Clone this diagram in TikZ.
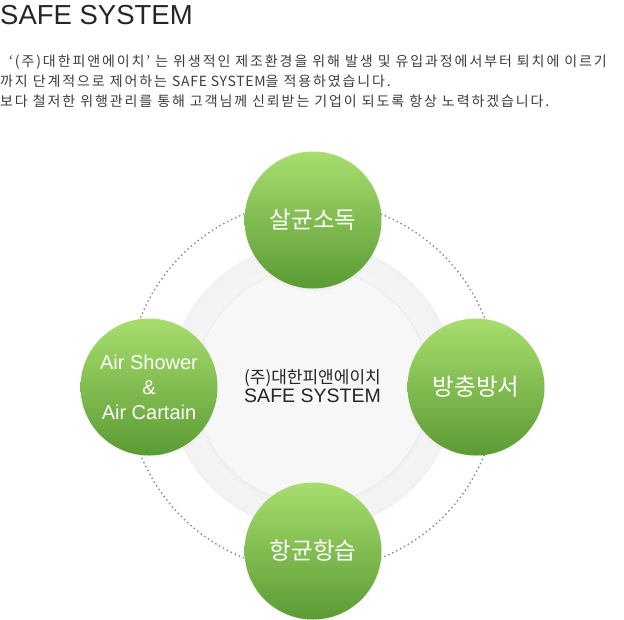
\documentclass[tikz,border=0pt]{standalone}
\usepackage{fontspec}
\setmainfont{Noto Sans CJK KR}
\newfontfamily\latinfont{Liberation Sans}
\newfontfamily\introfont{Noto Sans CJK KR}[LetterSpace=13.5]
\newfontfamily\introlatin{Noto Sans CJK KR}[LetterSpace=5]
\usetikzlibrary{positioning,shadows}

\definecolor{leafTop}{HTML}{A8DE6E}
\definecolor{leafBot}{HTML}{5B9B34}
\definecolor{dotGray}{HTML}{8A8A8A}
\definecolor{txtGray}{HTML}{3C3C3C}

\tikzset{
  greenball/.style={
      circle,
      minimum size=137pt,
      top color=leafTop,
      bottom color=leafBot,
      text=white,
      align=center,
      circular drop shadow={shadow xshift=0pt, shadow yshift=-2pt, opacity=0.18, shadow scale=1.02},
      font=\fontsize{23.5}{25}\selectfont
  },
  introline/.style={anchor=base west, inner sep=0pt, text=txtGray, font=\introfont\fontsize{14}{15}\selectfont}
}

\begin{document}
\begin{tikzpicture}[x=1pt,y=-1pt]
\useasboundingbox (0,0) rectangle (624,619);

% heading and intro text
\node[anchor=base west, inner sep=0pt, text=black!85, font=\latinfont\fontsize{27.5}{30}\selectfont] (title) at (0,24) {SAFE SYSTEM};
\node[introline] (introA) at (9,66) {‘(주)대한피앤에이치’  는 위생적인 제조환경을 위해 발생 및 유입과정에서부터 퇴치에 이르기};
\node[introline] (introB) at (0,86) {까지 단계적으로 제어하는 {\introlatin SAFE SYSTEM}을 적용하였습니다.};
\node[introline] (introC) at (0,106) {보다 철저한 위행관리를 통해 고객님께 신뢰받는 기업이 되도록 항상 노력하겠습니다.};

% rings behind
\coordinate (hub) at (312.5,386);
\draw[dotGray, line width=1.4pt, dash pattern=on 1.4pt off 3pt] (hub) circle[radius=185];
\node[
      circle,
      minimum size=286pt,
      inner color=black!1,
      outer color=black!5,
      draw=black!7,
      circular drop shadow={shadow xshift=0pt, shadow yshift=-1pt, opacity=0.08, shadow scale=1.02}
] (outerdisc) at (hub) {};
\node[
      circle,
      minimum size=234pt,
      fill=black!3,
      draw=black!10,
      circular drop shadow={shadow xshift=0pt, shadow yshift=-2pt, opacity=0.1, shadow scale=1.03}
] (core) at (hub) {};
\node[align=center, text=black!85, font=\fontsize{17}{20}\selectfont] (coretext) at (hub) {(주)대한피앤에이치\\[-1pt]{\latinfont\fontsize{19.5}{20}\selectfont SAFE SYSTEM}};

% the four green balls
\node[greenball] (steril) at (313,220) {살균소독};
\node[greenball] (pest) at (476,387) {방충방서};
\node[greenball] (humid) at (313,551) {항균항습};
\node[greenball, font=\latinfont\fontsize{20}{25}\selectfont] (shower) at (149,387) {Air Shower\\\&\\Air Cartain};
\end{tikzpicture}
\end{document}
